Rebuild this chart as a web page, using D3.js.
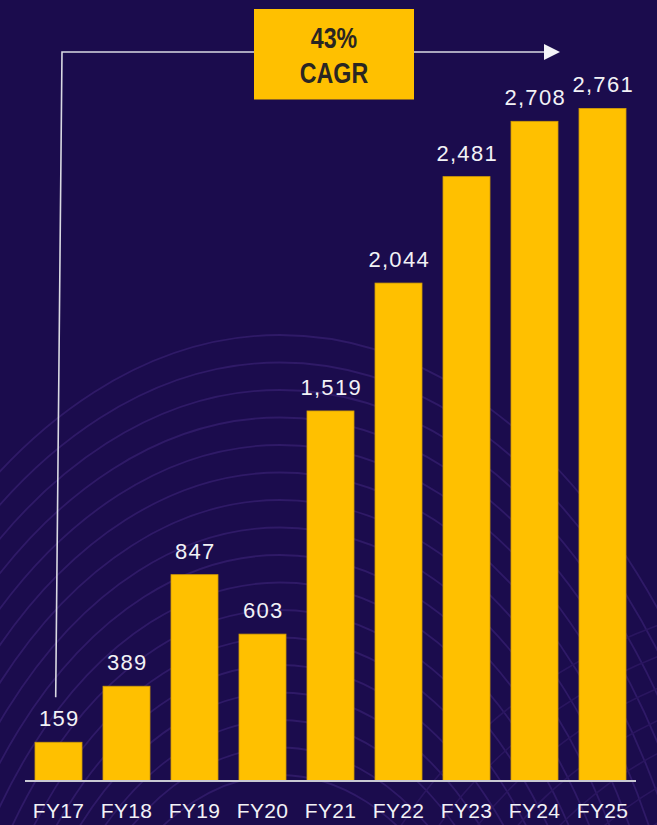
<!DOCTYPE html>
<html>
<head>
<meta charset="utf-8">
<script src="https://cdn.jsdelivr.net/npm/d3@7"></script>
<style>
  html, body { margin: 0; padding: 0; background: #1b0c4d; }
  svg { display: block; }
</style>
</head>
<body>
<div id="chart"></div>
<script>
const categories = ["FY17", "FY18", "FY19", "FY20", "FY21", "FY22", "FY23", "FY24", "FY25"];
const values = [159, 389, 847, 603, 1519, 2044, 2481, 2708, 2761];
const cagrLines = ["43%", "CAGR"];

const W = 657, H = 825;
const svg = d3.select("#chart").append("svg").attr("width", W).attr("height", H);

svg.append("rect").attr("width", W).attr("height", H).attr("fill", "#1b0c4d");

// decorative background arcs
const deco = svg.append("g").attr("fill", "none").attr("stroke", "#2f1a67").attr("stroke-width", 1.8);
d3.range(17).forEach(i => {
  const ry = 815 - i * 27.5, rx = ry * 0.62, cx = 280, cy = 1150;
  deco.append("ellipse").attr("cx", cx).attr("cy", cy).attr("rx", rx).attr("ry", ry);
});
const deco2 = svg.append("g").attr("fill", "none").attr("stroke", "#2a165f").attr("stroke-width", 1.6);
d3.range(9).forEach(i => {
  const r = 200 + i * 24;
  deco2.append("ellipse").attr("cx", 860).attr("cy", 1060).attr("rx", r * 1.35).attr("ry", r * 1.2);
});

const x = d3.scaleBand().domain(categories).range([35, 626]).paddingInner(0.309).paddingOuter(0);
const y = d3.scaleLinear().domain([0, 2761]).range([781, 108.4]);

// bars
svg.append("g").selectAll("rect").data(values).join("rect")
  .attr("x", (d, i) => x(categories[i]))
  .attr("y", d => y(d))
  .attr("width", x.bandwidth())
  .attr("height", d => y(0) - y(d))
  .attr("fill", "#ffc000")
  .attr("stroke", "#d19c05")
  .attr("stroke-width", 0.8);

// value labels
svg.append("g").selectAll("text").data(values).join("text")
  .attr("x", (d, i) => x(categories[i]) + x.bandwidth() / 2 + 0.7)
  .attr("y", d => y(d) - 16)
  .attr("text-anchor", "middle")
  .attr("fill", "#f2f2f6")
  .attr("font-family", "'Liberation Sans', Arial, sans-serif")
  .attr("font-size", 22)
  .attr("letter-spacing", 1.3)
  .text(d => d3.format(",")(d));

// baseline axis
const axis = d3.axisBottom(x).tickSize(0).tickPadding(0);
const gx = svg.append("g").attr("transform", `translate(0,${y(0)})`).call(axis);
gx.select(".domain").remove();
gx.append("line").attr("x1", 25).attr("x2", 636).attr("y1", 0).attr("y2", 0)
  .attr("stroke", "#c9c9d3").attr("stroke-width", 2);
gx.selectAll(".tick text")
  .attr("y", 37)
  .attr("dy", 0)
  .attr("fill", "#f2f2f6")
  .attr("font-family", "'Liberation Sans', Arial, sans-serif")
  .attr("font-size", 21)
  .attr("letter-spacing", 0.3);

// CAGR arrow
const arrowY = 52;
svg.append("path")
  .attr("d", `M${x(categories[0]) + x.bandwidth() / 2 - 2.8},${y(values[0]) - 45} L62,${arrowY} L545,${arrowY}`)
  .attr("fill", "none").attr("stroke", "#d9d9e2").attr("stroke-width", 1.6);
svg.append("path")
  .attr("d", `M544,${arrowY - 8} L560,${arrowY} L544,${arrowY + 8} Z`)
  .attr("fill", "#f4f4f8");

// CAGR box
svg.append("rect").attr("x", 254).attr("y", 9).attr("width", 160).attr("height", 90.5).attr("fill", "#ffc000");
svg.append("g").attr("transform", "translate(334,0) scale(0.8,1)")
  .selectAll("text").data(cagrLines).join("text")
  .attr("x", 0)
  .attr("y", (d, i) => 48.5 + i * 35)
  .attr("text-anchor", "middle")
  .attr("fill", "#2a2623")
  .attr("font-family", "'Liberation Sans', Arial, sans-serif")
  .attr("font-weight", "bold")
  .attr("font-size", 29)
  .text(d => d);
</script>
</body>
</html>
